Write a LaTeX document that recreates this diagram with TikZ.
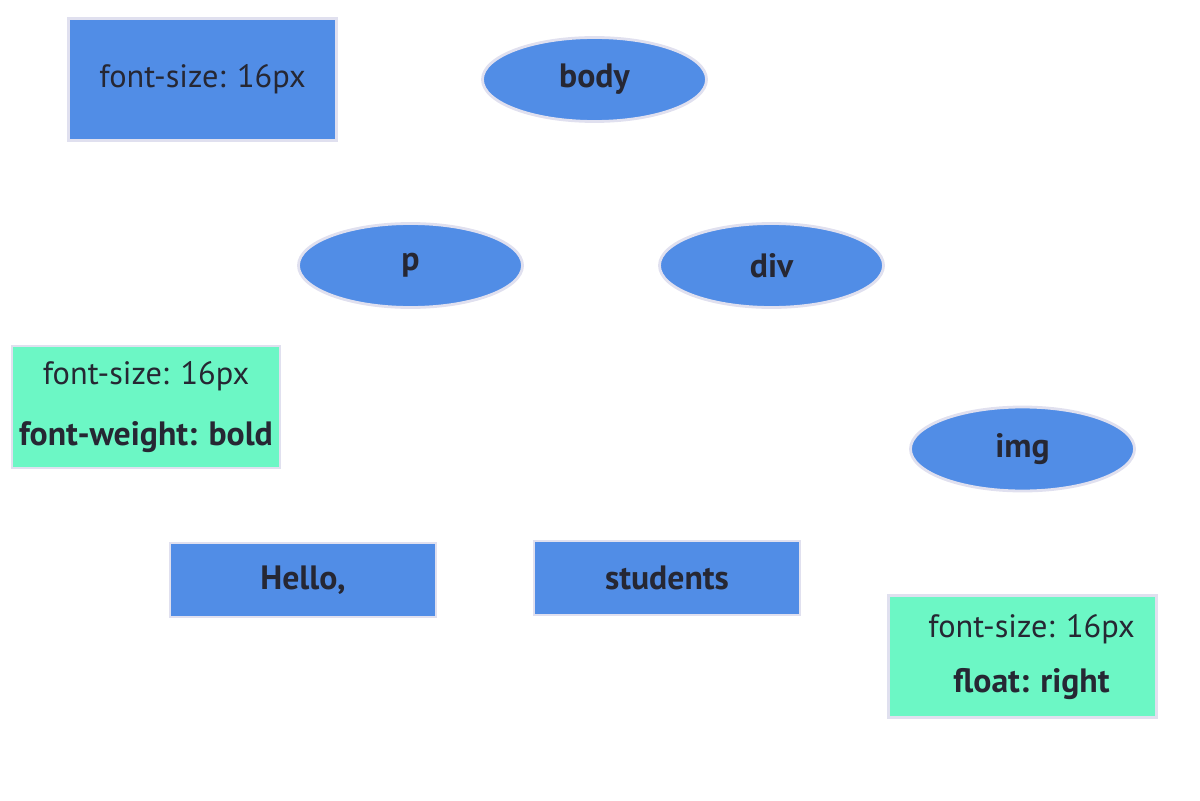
\documentclass[tikz,border=0pt]{standalone}
\usepackage{fontspec}
\setmainfont{PT Sans}
\usepackage{tikz}
\usetikzlibrary{shapes.geometric, positioning}

\definecolor{boxblue}{HTML}{518DE6}
\definecolor{boxgreen}{HTML}{6CF7C5}
\definecolor{edgegray}{HTML}{E0E0EF}
\definecolor{inkdark}{HTML}{262733}

\newcommand{\boldline}[1]{{\fontsize{24}{28}\selectfont\bfseries #1}}

\begin{document}
\begin{tikzpicture}[
    x=0.025cm, y=-0.025cm,
    base/.style={draw=edgegray, line width=2pt, text=inkdark, align=center, font=\fontsize{23}{28}\selectfont},
    elem/.style={base, ellipse, fill=boxblue, minimum width=5.6cm, minimum height=2.1cm, font=\fontsize{24}{28}\selectfont\bfseries},
    textbox/.style={base, rectangle, fill=boxblue, minimum width=6.65cm, minimum height=1.85cm, font=\fontsize{24}{28}\selectfont\bfseries},
    rulebox/.style={base, rectangle, fill=boxgreen, minimum width=6.7cm, minimum height=3.05cm},
    rootrule/.style={base, rectangle, fill=boxblue, minimum width=6.7cm, minimum height=3.05cm}
]
    \useasboundingbox (0,0) rectangle (1200,800);

    % element tree
    \node[elem] (body) at (594.5, 79.5) {body};
    \node[elem] (p) at (410.5, 265.5) {p};
    \node[elem] (div) at (771.5, 265.5) {div};
    \node[elem] (img) at (1022.5, 449) {img};

    % text content
    \node[textbox] (hello) at (303, 580) {Hello,};
    \node[textbox] (students) at (667, 578) {students};

    % style rules
    \node[rootrule] (bodyrule) at (202.5, 79.5) {font-size: 16px};
    \node[rulebox] (prule) at (146, 407) {font-size: 16px\\[15pt]\boldline{font-weight: bold}};
    \node[rulebox, text depth=4pt] (imgrule) at (1022.5, 656.5) {\hspace*{0.45cm}font-size: 16px\\[11pt]\hspace*{0.45cm}\boldline{float: right}};
\end{tikzpicture}
\end{document}
